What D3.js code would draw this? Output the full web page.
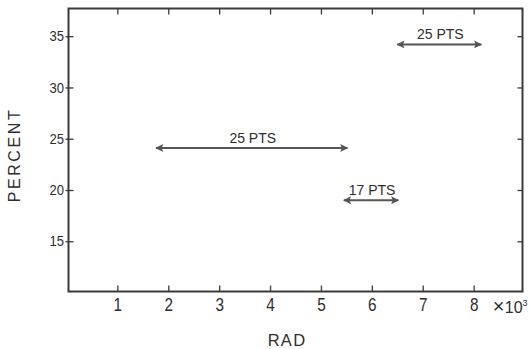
<!DOCTYPE html>
<html>
<head>
<meta charset="utf-8">
<script src="https://cdn.jsdelivr.net/npm/d3@7"></script>
<style>
  body { margin: 0; background: #fff; }
  svg text { font-family: "Liberation Sans", Arial, sans-serif; fill: #2e2e2e; }
</style>
</head>
<body>
<div class="chart"></div>
<script>
// ranges shown as double-headed arrows (RAD in 10^3, PERCENT)
var rangeLabels = ["25 PTS", "17 PTS", "25 PTS"];
var rangeStart  = [1.76, 5.45, 6.5];
var rangeEnd    = [5.52, 6.52, 8.15];
var rangePct    = [24.1, 19.0, 34.2];

var xTicks = [1, 2, 3, 4, 5, 6, 7, 8];
var yTicks = [15, 20, 25, 30, 35];

var w = 530, h = 349;
var margin = {top: 8.5, right: 7.5, bottom: 57.5, left: 68.5};

var svg = d3.select("div.chart")
  .append("svg")
  .attr("width", w)
  .attr("height", h);

var x = d3.scaleLinear()
  .domain([0.04, 8.96])
  .range([margin.left, w - margin.right]);

var y = d3.scaleLinear()
  .domain([10.1, 37.7])
  .range([h - margin.bottom, margin.top]);

var ink = "#3a3a3a";

// frame
svg.append("rect")
  .attr("x", margin.left)
  .attr("y", margin.top)
  .attr("width", w - margin.left - margin.right)
  .attr("height", h - margin.top - margin.bottom)
  .attr("fill", "none")
  .attr("stroke", ink)
  .attr("stroke-width", 2);

//bottom axis with labels
var gx = svg.append("g")
  .attr("transform", `translate(0,${h - margin.bottom})`)
  .call(d3.axisBottom(x).tickValues(xTicks).tickSizeInner(-6).tickSizeOuter(0).tickPadding(7).tickFormat(d3.format("d")));
gx.select(".domain").remove();
gx.selectAll("line").attr("stroke", ink).attr("stroke-width", 1.3);
gx.selectAll("text")
  .attr("font-size", 18)
  .attr("transform", "scale(0.85,1)")
  .style("fill", "#2e2e2e");

//top axis, ticks only
var gt = svg.append("g")
  .attr("transform", `translate(0,${margin.top})`)
  .call(d3.axisTop(x).tickValues(xTicks).tickSizeInner(-6).tickSizeOuter(0).tickFormat(""));
gt.select(".domain").remove();
gt.selectAll("line").attr("stroke", ink).attr("stroke-width", 1.3);

//left axis
var gy = svg.append("g")
  .attr("transform", `translate(${margin.left},0)`)
  .call(d3.axisLeft(y).tickValues(yTicks).tickSizeInner(-5).tickSizeOuter(0).tickPadding(5));
gy.select(".domain").remove();
gy.selectAll("line").attr("x1", -3).attr("x2", 5).attr("stroke", ink).attr("stroke-width", 1.3);
gy.selectAll("text")
  .attr("font-size", 14.5)
  .attr("transform", "scale(0.9,1)")
  .style("fill", "#2e2e2e");

//right axis, ticks only
var gr = svg.append("g")
  .attr("transform", `translate(${w - margin.right},0)`)
  .call(d3.axisRight(y).tickValues(yTicks).tickSizeInner(-5).tickSizeOuter(0).tickFormat(""));
gr.select(".domain").remove();
gr.selectAll("line").attr("stroke", ink).attr("stroke-width", 1.3);

// x10^3 multiplier
var mult = svg.append("text")
  .attr("x", x(8) + 19)
  .attr("y", h - margin.bottom + 21)
  .attr("font-size", 16);
mult.append("tspan").attr("font-size", 20).text("×");
mult.append("tspan").attr("dx", 0.5).text("10");
mult.append("tspan").attr("font-size", 9).attr("dy", -7).text("3");

// axis titles
svg.append("text")
  .attr("x", 287)
  .attr("y", h - 3)
  .attr("text-anchor", "middle")
  .attr("font-size", 16.5)
  .attr("letter-spacing", 1.3)
  .text("RAD");

svg.append("text")
  .attr("transform", `translate(20,${155}) rotate(-90)`)
  .attr("text-anchor", "middle")
  .attr("font-size", 16)
  .attr("letter-spacing", 2.6)
  .text("PERCENT");

// arrowheads
var defs = svg.append("defs");
defs.append("marker")
  .attr("id", "head")
  .attr("viewBox", "0 0 10 10")
  .attr("refX", 9)
  .attr("refY", 5)
  .attr("markerWidth", 5)
  .attr("markerHeight", 4)
  .attr("markerUnits", "strokeWidth")
  .attr("orient", "auto-start-reverse")
  .append("path")
    .attr("d", "M0,0L10,5L0,10L2,5Z")
    .attr("fill", "#555");

var ranges = rangeLabels.map(function(d, i){
  return {label: d, x0: rangeStart[i], x1: rangeEnd[i], pct: rangePct[i]};
});

var rg = svg.append("g").selectAll(".range")
  .data(ranges)
  .enter()
  .append("g");

rg.append("line")
  .attr("x1", d => x(d.x0))
  .attr("x2", d => x(d.x1))
  .attr("y1", d => y(d.pct))
  .attr("y2", d => y(d.pct))
  .attr("stroke", "#555")
  .attr("stroke-width", 2)
  .attr("marker-start", "url(#head)")
  .attr("marker-end", "url(#head)");

rg.append("text")
  .attr("x", d => (x(d.x0) + x(d.x1)) / 2 + 1)
  .attr("y", d => y(d.pct) - 5)
  .attr("text-anchor", "middle")
  .attr("font-size", 14)
  .text(d => d.label);
</script>
</body>
</html>
